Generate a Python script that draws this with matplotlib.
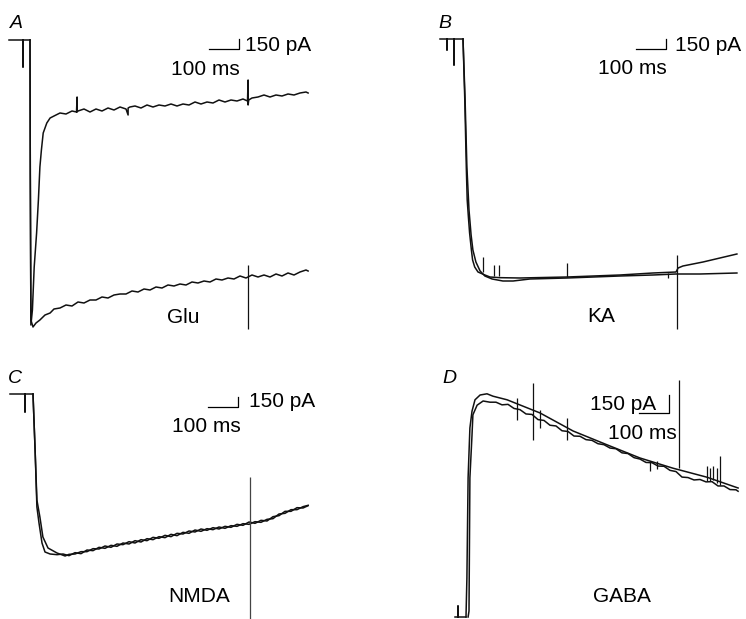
import matplotlib
matplotlib.use("Agg")
import matplotlib.pyplot as plt

W, H = 746, 619
plt.rcParams['font.family'] = ['Liberation Sans', 'DejaVu Sans']

# scale bars (same in every panel)
BAR_MS = 100
BAR_PA = 150

# ---- A: Glu (time in ms, current in pA) ----
glu_base_t = [-70, -23, -23, -23, 0]
glu_base_i = [0, 0, -405, 0, 0]
glu_fast_t = [0, 1, 3, 8, 14, 22, 28, 33, 38, 44, 56, 67, 80, 100, 120, 140, 155, 157, 157, 160,
              180, 200, 220, 240, 260, 280, 300, 320, 327, 327, 333, 350, 370, 390, 410, 430, 450,
              470, 490, 510, 530, 550, 570, 590, 610, 630, 650, 670, 690, 710, 725, 727, 727, 729,
              740, 760, 780, 800, 820, 840, 860, 880, 900, 920, 927]
glu_fast_i = [0, -2000, -4275, -4050, -3405, -2895, -2400, -1905, -1650, -1395, -1245, -1170, -1140,
              -1095, -1110, -1065, -1080, -855, -1080, -1065, -1035, -1080, -1035, -1065, -1020, -1050,
              -1005, -1035, -1125, -1020, -1005, -990, -1020, -975, -1005, -975, -990, -960, -990,
              -960, -975, -930, -960, -930, -945, -900, -930, -900, -915, -885, -915, -600, -975,
              -900, -870, -855, -825, -855, -825, -840, -810, -825, -795, -780, -795]
glu_slow_t = [0, 1, 3, 10, 20, 33, 50, 67, 80, 100, 120, 140, 160, 180, 200, 220, 240, 260, 280,
              300, 320, 340, 360, 380, 400, 420, 440, 460, 480, 500, 520, 540, 560, 580, 600, 620,
              640, 660, 680, 700, 720, 740, 760, 780, 800, 820, 840, 860, 880, 900, 920, 927]
glu_slow_i = [0, -2000, -4200, -4305, -4245, -4200, -4125, -4095, -4035, -4020, -3975, -3990, -3930,
              -3945, -3900, -3900, -3855, -3870, -3825, -3810, -3810, -3765, -3780, -3735, -3750,
              -3705, -3720, -3675, -3690, -3660, -3675, -3630, -3645, -3615, -3630, -3585, -3600,
              -3570, -3585, -3540, -3570, -3525, -3555, -3525, -3555, -3510, -3540, -3495, -3525,
              -3480, -3450, -3465]
glu_artifact = (727, -3375, -4335)

# ---- B: KA ----
ka_base_t = [-77, -53, -53, -53, -30, -30, -30, 0]
ka_base_i = [0, 0, -165, 0, 0, -390, 0, 0]
ka_fast_t = [0, 6, 11, 14, 18, 22, 28, 32, 39, 50, 73, 90, 123, 190, 347, 523, 633, 710, 717, 733,
             800, 913]
ka_fast_i = [0, -915, -1920, -2415, -2670, -2910, -3165, -3315, -3420, -3495, -3540, -3570, -3580,
             -3585, -3570, -3540, -3510, -3495, -3435, -3405, -3345, -3225]
ka_slow_t = [0, 7, 13, 20, 27, 33, 43, 57, 73, 97, 133, 167, 223, 347, 523, 633, 710, 790, 913]
ka_slow_i = [0, -915, -1920, -2565, -2940, -3165, -3345, -3480, -3555, -3600, -3630, -3630, -3600,
             -3585, -3555, -3540, -3525, -3525, -3510]
ka_spike_t = [67, 103, 120, 347, 683]
ka_spike_lo = [-3495, -3555, -3555, -3570, -3585]
ka_spike_hi = [-3270, -3390, -3390, -3360, -3510]
ka_artifact = (713, -3240, -4350)

# ---- C: NMDA ----
nmda_base_t = [-77, -27, -27, -27, 0]
nmda_base_i = [0, 0, -270, 0, 0]
nmda_fast_t = [0, 7, 13, 20, 30, 40, 57, 80, 100, 120, 140, 160, 180, 200, 220, 240, 260, 280,
               300, 320, 340, 360, 380, 400, 420, 440, 460, 480, 500, 520, 540, 560, 580, 600, 620,
               640, 660, 680, 700, 720, 740, 760, 780, 800, 820, 840, 860, 880, 900, 917]
nmda_fast_i = [0, -840, -1695, -1935, -2235, -2370, -2400, -2410, -2400, -2425, -2380, -2395, -2340,
               -2350, -2300, -2315, -2270, -2285, -2235, -2250, -2200, -2220, -2170, -2185, -2140,
               -2155, -2105, -2125, -2075, -2090, -2040, -2060, -2020, -2035, -1995, -2015, -1975,
               -1985, -1945, -1955, -1915, -1925, -1880, -1870, -1800, -1790, -1735, -1735, -1690,
               -1670]
nmda_slow_t = [0, 7, 13, 23, 33, 50, 80, 107, 120, 140, 160, 180, 200, 220, 240, 260, 280, 300,
               320, 340, 360, 380, 400, 420, 440, 460, 480, 500, 520, 540, 560, 580, 600, 620, 640,
               660, 680, 700, 720, 740, 760, 780, 800, 820, 840, 860, 880, 900, 917]
nmda_slow_i = [0, -840, -1590, -1845, -2145, -2310, -2385, -2430, -2405, -2400, -2365, -2365, -2320,
               -2325, -2280, -2300, -2250, -2260, -2215, -2235, -2185, -2200, -2150, -2165, -2120,
               -2140, -2090, -2100, -2055, -2070, -2025, -2045, -2005, -2025, -1985, -2000, -1955,
               -1970, -1920, -1940, -1895, -1905, -1840, -1825, -1760, -1760, -1705, -1710, -1675]
nmda_artifact = (723, -1245, -3450)

# ---- D: GABA ----
gaba_base_t = [-37, -27, -27, -27, 0]
gaba_base_i = [0, 0, 92, 0, 0]
gaba_outer_t = [0, 3, 7, 13, 20, 30, 47, 70, 90, 137, 247, 357, 470, 580, 690, 803, 907]
gaba_outer_i = [0, 325, 1160, 1575, 1715, 1810, 1850, 1860, 1840, 1810, 1700, 1550, 1435, 1325,
                1240, 1165, 1075]
gaba_inner_t = [7, 10, 13, 20, 23, 37, 57, 80, 100, 120, 140, 160, 180, 200, 220, 240, 260, 280,
                300, 320, 340, 360, 380, 400, 420, 440, 460, 480, 500, 520, 540, 560, 580, 600, 620,
                640, 660, 680, 700, 720, 740, 760, 780, 800, 820, 840, 860, 880, 900, 907]
gaba_inner_i = [0, 50, 1160, 1515, 1685, 1765, 1800, 1790, 1790, 1768, 1772, 1738, 1728, 1692, 1688,
                1645, 1638, 1598, 1592, 1552, 1546, 1508, 1506, 1478, 1472, 1444, 1436, 1408, 1402,
                1368, 1362, 1328, 1316, 1288, 1286, 1258, 1256, 1222, 1212, 1166, 1162, 1142, 1146,
                1126, 1128, 1092, 1092, 1062, 1060, 1048]
gaba_spike_t = [170, 223, 247, 337, 613, 637, 710, 803, 813, 823, 837, 847]
gaba_spike_lo = [1642, 1475, 1575, 1475, 1217, 1233, 1242, 1133, 1133, 1142, 1117, 1100]
gaba_spike_hi = [1825, 1950, 1725, 1658, 1300, 1300, 1975, 1258, 1242, 1258, 1242, 1342]

fig = plt.figure(figsize=(W / 100, H / 100), dpi=100)


def panel(x0, y0, ms_px, pa_px):
    # transparent axes over the whole figure, trace origin at pixel (x0, y0)
    ax = fig.add_axes([0, 0, 1, 1])
    ax.set_xlim(-x0 * ms_px, (W - x0) * ms_px)
    ax.set_ylim(-(H - y0) * pa_px, y0 * pa_px)
    ax.axis('off')
    ax.patch.set_alpha(0)
    return ax


def bar(ax, t, i):
    # "_|" scale bar with its corner at (t, i)
    ax.plot([t - BAR_MS, t, t], [i, i, i + BAR_PA], color='k', lw=0.9)


def label(x, y, s, size=15, style='normal'):
    fig.text(x / W, 1 - y / H, s, ha='left', va='baseline', fontsize=size, style=style)


LW = 1.1
C = '#111111'

axA = panel(30, 40, 10 / 3, 15)
axA.plot(glu_base_t, glu_base_i, color=C, lw=LW)
axA.plot(glu_fast_t, glu_fast_i, color=C, lw=LW)
axA.plot(glu_slow_t, glu_slow_i, color=C, lw=LW)
axA.vlines(glu_artifact[0], glu_artifact[2], glu_artifact[1], color=C, lw=0.9)
bar(axA, 697, -135)

axB = panel(463, 39, 10 / 3, 15)
axB.plot(ka_base_t, ka_base_i, color=C, lw=LW)
axB.plot(ka_fast_t, ka_fast_i, color=C, lw=LW)
axB.plot(ka_slow_t, ka_slow_i, color=C, lw=LW)
axB.vlines(ka_spike_t, ka_spike_lo, ka_spike_hi, color=C, lw=0.9)
axB.vlines(ka_artifact[0], ka_artifact[2], ka_artifact[1], color=C, lw=0.9)
bar(axB, 677, -150)

axC = panel(33, 394, 10 / 3, 15)
axC.plot(nmda_base_t, nmda_base_i, color=C, lw=LW)
axC.plot(nmda_fast_t, nmda_fast_i, color=C, lw=LW)
axC.plot(nmda_slow_t, nmda_slow_i, color=C, lw=LW)
axC.vlines(nmda_artifact[0], nmda_artifact[2], nmda_artifact[1], color='#444444', lw=0.9)
bar(axC, 683, -195)

axD = panel(466, 617, 10 / 3, 150 / 18)
axD.plot(gaba_base_t, gaba_base_i, color=C, lw=LW)
axD.plot(gaba_outer_t, gaba_outer_i, color=C, lw=LW)
axD.plot(gaba_inner_t, gaba_inner_i, color=C, lw=LW)
axD.vlines(gaba_spike_t, gaba_spike_lo, gaba_spike_hi, color=C, lw=0.9)
bar(axD, 677, 1700)

label(10, 28, 'A', 14, 'italic')
label(245, 51, '150 pA')
label(171, 75, '100 ms')
label(167, 323, 'Glu')

label(438, 28, 'B', 14, 'italic')
label(675, 51, '150 pA')
label(598, 74, '100 ms')
label(587, 322, 'KA')

label(8, 383, 'C', 14, 'italic')
label(249, 407, '150 pA')
label(172, 432, '100 ms')
label(168, 602, 'NMDA')

label(442, 383, 'D', 14, 'italic')
label(590, 410, '150 pA')
label(608, 439, '100 ms')
label(593, 602, 'GABA')

fig.savefig('out.png', dpi=100)
